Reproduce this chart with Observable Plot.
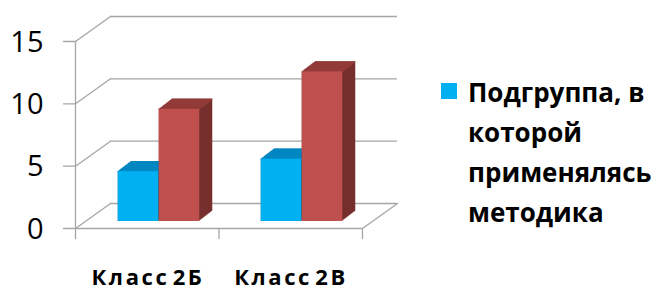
<!DOCTYPE html>
<html><head><meta charset="utf-8">
<script src="https://cdn.jsdelivr.net/npm/d3@7"></script>
<script src="https://cdn.jsdelivr.net/npm/@observablehq/plot@0.6"></script>
<style>
body{margin:0;background:#fff;}
#wrap{position:relative;width:662px;height:292px;font-family:"Open Sans",sans-serif;overflow:hidden;}
#legend{position:absolute;left:441px;top:72px;}
#legend .sw{position:absolute;left:0;top:11px;width:16px;height:16px;}
#legend .lbl{position:absolute;left:27px;top:0;width:200px;font-size:26px;font-weight:bold;line-height:40px;color:#000;}
#chart g[aria-label="x-axis tick label"] text{letter-spacing:2.6px;word-spacing:-5px;}
</style></head><body>
<div id="wrap"><div id="chart"></div><div id="legend"></div></div>
<script>
const categories = ["Класс 2Б", "Класс 2В"];
const seriesNames = ["Подгруппа, в которой применялясь методика", "Подгруппа 2"];
const seriesA = [4, 5];
const seriesB = [9, 12];
const yTicks = [0, 5, 10, 15];

const W = 662, H = 292, ML = 75, MR = 300, MT = 41, MB = 64;
const bw = (W - ML - MR) / categories.length;
const barW = 41, FDX = 11, FDY = -7, DDX = 13, DDY = -10, WDX = 35, WDY = -25;
const grid = "#A6A6A6";
const rows = s => categories.map((c, i) => ({cat: c, value: s[i]}));
const series = [
  {name: seriesNames[0], data: rows(seriesA), front: "#00B0F0", top: "#0086C0", side: "#006E9E", insetLeft: bw / 2 - barW, insetRight: bw / 2},
  {name: seriesNames[1], data: rows(seriesB), front: "#C0504D", top: "#923B39", side: "#772F2D", insetLeft: bw / 2, insetRight: bw / 2 - barW}
];
const wallAngle = Math.atan2(WDX, -WDY) * 180 / Math.PI;
const wallLen = Math.hypot(WDX, WDY);
const seg = {draw(ctx, l) { ctx.moveTo(0, 0); ctx.lineTo(0, -l); }};
const vec = (data, o) => Plot.vector(data, {y: d => d, anchor: "start", shape: seg, stroke: grid, strokeWidth: 1.3, ...o});

const marks = [
  Plot.ruleY(yTicks, {dx: WDX, dy: WDY, stroke: grid, strokeWidth: 1.3}),
  vec(yTicks, {frameAnchor: "left", length: wallLen, rotate: wallAngle}),
  vec([0], {frameAnchor: "right", length: wallLen, rotate: wallAngle}),
  Plot.ruleY([0], {stroke: grid, strokeWidth: 1.3}),
  vec([0], {frameAnchor: "left", length: H - MT - MB, rotate: 0}),
  vec(yTicks, {frameAnchor: "left", length: 12, rotate: -90}),
  ...["left", "middle", "right"].map(a => vec([0], {frameAnchor: a, length: 10, rotate: 180})),
  Plot.axisY({ticks: yTicks, tickSize: 0, tickPadding: 32, textAnchor: "end", fontSize: 29, dy: 1, fill: "#000", label: null}),
  Plot.axisX({tickSize: 0, tickPadding: 41, fontSize: 22, fontWeight: "bold", fill: "#000", label: null})
];
for (const s of series) {
  const base = {x: "cat", y: "value", insetLeft: s.insetLeft, insetRight: s.insetRight};
  for (let k = 0; k <= DDX; k++) marks.push(Plot.barY(s.data, {...base, dx: FDX + k, dy: FDY + k * DDY / DDX, fill: s.side}));
  for (let k = 0; k <= DDX; k++) marks.push(Plot.tickY(s.data, {...base, dx: FDX + k, dy: FDY + k * DDY / DDX, stroke: s.top, strokeWidth: 1.5}));
  marks.push(Plot.barY(s.data, {...base, dx: FDX, dy: FDY, fill: s.front}));
}

const chart = Plot.plot({
  width: W, height: H,
  marginLeft: ML, marginRight: MR, marginTop: MT, marginBottom: MB,
  style: {fontFamily: "'Open Sans', sans-serif", background: "transparent", overflow: "visible"},
  x: {domain: categories, padding: 0},
  y: {domain: [0, 15]},
  marks
});
document.getElementById("chart").appendChild(chart);

const lg = document.getElementById("legend");
const sw = document.createElement("div"); sw.className = "sw"; sw.style.background = series[0].front;
const lb = document.createElement("div"); lb.className = "lbl"; lb.textContent = series[0].name;
lg.appendChild(sw); lg.appendChild(lb);
</script></body></html>
